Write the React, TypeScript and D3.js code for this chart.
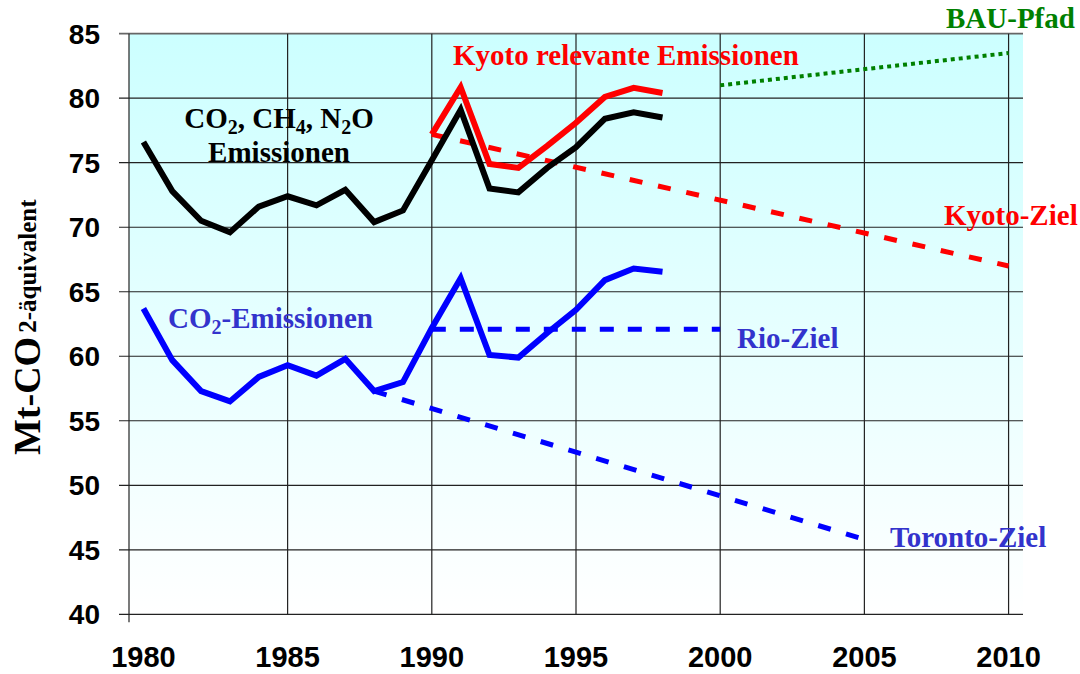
import React from 'react';
import * as d3 from 'd3';

// Jahre der Messreihen
const years = [1980, 1981, 1982, 1983, 1984, 1985, 1986, 1987, 1988, 1989, 1990, 1991, 1992, 1993, 1994, 1995, 1996, 1997, 1998];
// CO2, CH4, N2O Emissionen
const totalEmissions = [76.6, 72.8, 70.5, 69.6, 71.6, 72.4, 71.7, 72.9, 70.4, 71.3, 75.2, 79.1, 73.0, 72.7, 74.6, 76.2, 78.4, 78.9, 78.5];
// CO2-Emissionen
const co2Emissions = [63.7, 59.7, 57.3, 56.5, 58.4, 59.3, 58.5, 59.8, 57.3, 58.0, 62.2, 66.05, 60.1, 59.9, 61.8, 63.6, 65.9, 66.8, 66.55];
// Kyoto relevante Emissionen
const kyotoYears = [1990, 1991, 1992, 1993, 1994, 1995, 1996, 1997, 1998];
const kyotoEmissions = [77.2, 80.85, 74.9, 74.6, 76.3, 78.1, 80.1, 80.8, 80.4];

// Zielpfade [Jahr, Wert]
const kyotoZiel: [number, number][] = [[1990, 77.2], [2010, 67.0]];
const rioZiel: [number, number][] = [[1990, 62.1], [2000, 62.1]];
const torontoZiel: [number, number][] = [[1988, 57.3], [2005, 45.8]];
const bauPfad: [number, number][] = [[2000, 81.0], [2010, 83.5]];

const yTicks = [40, 45, 50, 55, 60, 65, 70, 75, 80, 85];
const xTicks = [1980, 1985, 1990, 1995, 2000, 2005, 2010];

const W = 1080;
const H = 674;
const left = 129;
const right = 1023;
const top = 33.7;
const bottom = 614.3;

const serif = '"Liberation Serif", "Times New Roman", serif';
const sans = '"Liberation Sans", Arial, sans-serif';

const App: React.FC = () => {
  const x = d3.scaleLinear().domain([1979.5, 2010.5]).range([left, right]);
  const y = d3.scaleLinear().domain([40, 85]).range([bottom, top]);

  const line = d3
    .line<[number, number]>()
    .x((d) => x(d[0]))
    .y((d) => y(d[1]));

  const zip = (xs: number[], vs: number[]) => xs.map((v, i) => [v, vs[i]] as [number, number]);

  return (
    <svg width={W} height={H} style={{ position: 'absolute', left: 0, top: 0 }}>
      <defs>
        <linearGradient id="bg" x1="0" y1="0" x2="0" y2="1">
          <stop offset="0%" stopColor="#ccffff" />
          <stop offset="100%" stopColor="#ffffff" />
        </linearGradient>
      </defs>
      <rect x={0} y={0} width={W} height={H} fill="#fff" />
      <rect x={left} y={top} width={right - left} height={bottom - top} fill="url(#bg)" />

      {/* Gitterlinien */}
      {yTicks.map((t) => (
        <line key={'gy' + t} x1={left - 10} x2={right} y1={y(t)} y2={y(t)} stroke={t === 85 ? '#666' : '#222'} strokeWidth={t === 85 ? 1.8 : 1.2} />
      ))}
      {xTicks.filter((t) => t > 1980).map((t) => (
        <line key={'gx' + t} x1={x(t)} x2={x(t)} y1={top} y2={bottom} stroke="#222" strokeWidth={1.2} />
      ))}
      <line x1={left} x2={left} y1={top} y2={bottom + 8} stroke="#222" strokeWidth={1.2} />

      {/* Achsenbeschriftung */}
      {yTicks.map((t) => (
        <text key={'ty' + t} x={100} y={y(t)} dy="0.36em" textAnchor="end" fontFamily={sans} fontWeight="bold" fontSize={28} fill="#000">
          {t}
        </text>
      ))}
      {xTicks.map((t) => (
        <text key={'tx' + t} x={x(t)} y={667} textAnchor="middle" fontFamily={sans} fontWeight="bold" fontSize={29} fill="#000">
          {t}
        </text>
      ))}
      <text transform="translate(40,455) rotate(-90)" fontFamily={serif} fontWeight="bold" fill="#000">
        <tspan fontSize={38}>Mt-CO</tspan>
        <tspan fontSize={25} dx={4} dy={-4}>2-äquivalent</tspan>
      </text>

      {/* Zielpfade */}
      <path d={line(bauPfad)!} fill="none" stroke="#008000" strokeWidth={4} strokeDasharray="4 4" />
      <path d={line(kyotoZiel)!} fill="none" stroke="#ff0000" strokeWidth={5} strokeDasharray="13 16" />
      <path d={line(rioZiel)!} fill="none" stroke="#0000ff" strokeWidth={5} strokeDasharray="14 14" />
      <path d={line(torontoZiel)!} fill="none" stroke="#0000ff" strokeWidth={5} strokeDasharray="13 16" />

      {/* Messreihen */}
      <path d={line(zip(years, totalEmissions))!} fill="none" stroke="#000" strokeWidth={6} strokeLinejoin="miter" />
      <path d={line(zip(kyotoYears, kyotoEmissions))!} fill="none" stroke="#ff0000" strokeWidth={6} strokeLinejoin="miter" />
      <path d={line(zip(years, co2Emissions))!} fill="none" stroke="#0000ff" strokeWidth={6} strokeLinejoin="miter" />

      {/* Beschriftungen */}
      <g fontFamily={serif} fontWeight="bold" fontSize={29}>
        <text x={279} y={128} textAnchor="middle" fill="#000">
          CO<tspan fontSize={20} dy={6}>2</tspan>
          <tspan dy={-6}>, CH</tspan>
          <tspan fontSize={20} dy={6}>4</tspan>
          <tspan dy={-6}>, N</tspan>
          <tspan fontSize={20} dy={6}>2</tspan>
          <tspan dy={-6}>O</tspan>
        </text>
        <text x={279} y={162} textAnchor="middle" fill="#000">Emissionen</text>
        <text x={453} y={65} fill="#ff0000">Kyoto relevante Emissionen</text>
        <text x={946} y={28} fill="#008000">BAU-Pfad</text>
        <text x={944} y={225} fill="#ff0000">Kyoto-Ziel</text>
        <text x={168} y={328} fill="#3333cc">
          CO<tspan fontSize={20} dy={6}>2</tspan>
          <tspan dy={-6}>-Emissionen</tspan>
        </text>
        <text x={737} y={348} fill="#3333cc">Rio-Ziel</text>
        <text x={890} y={547} fill="#3333cc">Toronto-Ziel</text>
      </g>
    </svg>
  );
};

export default App;
